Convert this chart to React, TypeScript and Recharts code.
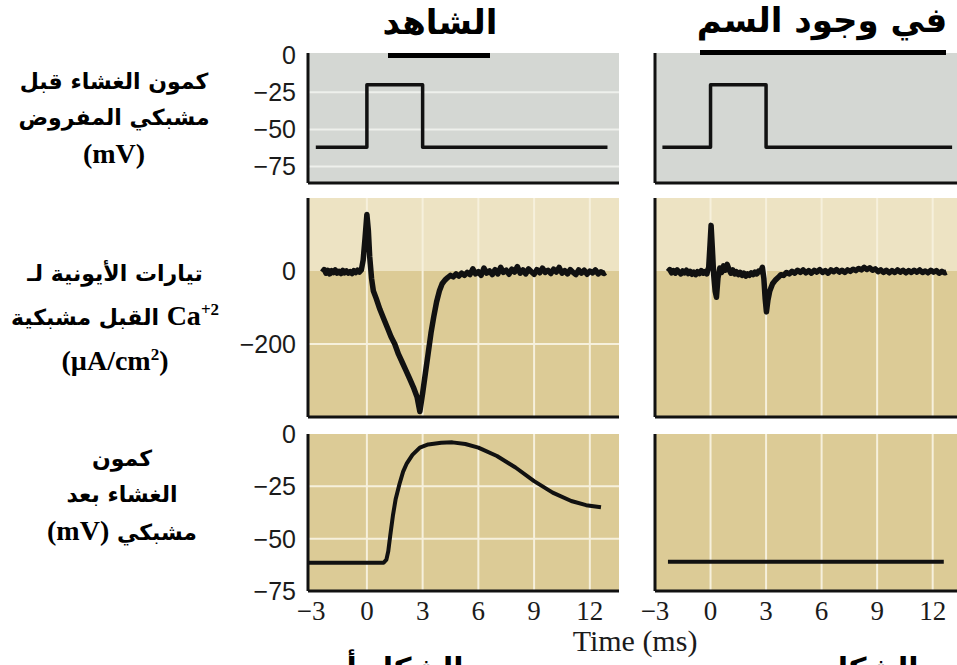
import {
  CartesianGrid,
  Line,
  LineChart,
  ReferenceArea,
  ReferenceLine,
  XAxis,
  YAxis,
} from 'recharts';

// time axis (ms)
const TIME_TICKS = [-3, 0, 3, 6, 9, 12];
const TIME_GRID = [0, 3, 6, 9, 12];
const LEFT_TIME_DOMAIN = [-3.17, 13.57];
const RIGHT_TIME_DOMAIN = [-3, 13.8];

// presynaptic voltage clamp (mV)
const PRE_TICKS = [0, -25, -50, -75];
const PRE_GRID = [-25, -50, -75];
const PRE_DOMAIN = [-86, 1.3];

// presynaptic Ca current (µA/cm2)
const CA_TICKS = [0, -200];
const CA_GRID = [-200];
const CA_DOMAIN = [-400, 200];
const CA_OUTWARD = [0, 200];

// postsynaptic potential (mV)
const POST_TICKS = [0, -25, -50, -75];
const POST_GRID = [-25, -50];
const POST_DOMAIN = [-75, 0];

// [time ms, value]
const controlPre: [number, number][] = [
  [-2.75, -62], [0, -62], [0, -20], [3, -20], [3, -62], [12.95, -62],
];
const toxinPre: [number, number][] = [
  [-2.6, -62], [0, -62], [0, -20], [3, -20], [3, -62], [13.05, -62],
];

const controlCa: [number, number][] = [
  [-2.4, -3], [-2.3, 4], [-2.2, -6], [-2.1, 2], [-2.0, -8], [-1.9, 1], [-1.8, -4], [-1.7, 3],
  [-1.6, -6], [-1.5, -1], [-1.4, -7], [-1.3, 2], [-1.2, -5], [-1.1, 0], [-1.0, -6], [-0.9, -2],
  [-0.8, -7], [-0.7, 1], [-0.6, -4], [-0.5, 2], [-0.4, -3], [-0.3, 3],
  [-0.2, 30], [-0.1, 90], [0.0, 155], [0.08, 110], [0.15, 40], [0.25, -20], [0.35, -55],
  [0.5, -75], [0.7, -105], [0.9, -130], [1.1, -155], [1.3, -180], [1.5, -200], [1.7, -228],
  [1.9, -250], [2.1, -272], [2.3, -295], [2.5, -318], [2.7, -345], [2.85, -385], [3.0, -335],
  [3.15, -280], [3.3, -225], [3.45, -170], [3.6, -125], [3.75, -85], [3.9, -55], [4.05, -35],
  [4.2, -25], [4.35, -18], [4.5, -12], [4.65, -16], [4.8, -8], [4.95, -14], [5.1, -6],
  [5.25, -12], [5.4, -4], [5.55, -10], [5.7, 6], [5.85, -8], [6.0, -2], [6.15, -12], [6.3, 8],
  [6.45, -6], [6.6, 0], [6.75, -10], [6.9, 4], [7.05, -8], [7.2, 10], [7.35, -4], [7.5, 2],
  [7.65, -9], [7.8, 5], [7.95, -3], [8.1, 12], [8.25, -6], [8.4, 3], [8.55, -8], [8.7, 6],
  [8.85, -2], [9.0, -9], [9.15, 4], [9.3, -5], [9.45, 8], [9.6, -4], [9.75, 2], [9.9, -7],
  [10.05, 5], [10.2, -3], [10.35, 10], [10.5, -6], [10.65, 1], [10.8, -8], [10.95, 4],
  [11.1, -4], [11.25, -10], [11.4, 3], [11.55, -6], [11.7, 2], [11.85, -9], [12.0, 0],
  [12.15, -5], [12.3, 3], [12.45, -8], [12.6, -2], [12.75, -7], [12.85, -4],
];

const toxinCa: [number, number][] = [
  [-2.3, -2], [-2.2, 4], [-2.1, -5], [-2.0, 1], [-1.9, -6], [-1.8, 3], [-1.7, -3], [-1.6, -8],
  [-1.5, 0], [-1.4, -5], [-1.3, 2], [-1.2, -7], [-1.1, -1], [-1.0, -9], [-0.9, -3], [-0.8, -10],
  [-0.7, -2], [-0.6, -7], [-0.5, 1], [-0.4, -6], [-0.3, -2], [-0.2, -8], [-0.1, 10],
  [-0.03, 70], [0.03, 125], [0.1, 60], [0.17, -10], [0.25, -55], [0.32, -72], [0.4, -20],
  [0.5, 8], [0.6, -4], [0.7, 14], [0.8, 2], [0.9, 18], [1.0, 4], [1.1, -6], [1.2, 3],
  [1.3, -8], [1.4, -2], [1.5, -10], [1.6, -4], [1.7, -12], [1.8, -6], [1.9, -14], [2.0, -8],
  [2.1, -12], [2.2, -5], [2.3, -10], [2.4, -3], [2.5, -8], [2.6, 0], [2.7, -2], [2.8, 10],
  [2.88, -20], [2.95, -75], [3.02, -112], [3.1, -80], [3.2, -55], [3.35, -35], [3.5, -25],
  [3.65, -18], [3.8, -10], [3.95, -12], [4.1, -4], [4.25, -8], [4.4, -1], [4.55, -6],
  [4.7, 2], [4.85, -4], [5.0, 3], [5.15, -5], [5.3, 1], [5.45, -6], [5.6, 2], [5.75, -3],
  [5.9, 4], [6.05, -4], [6.2, 1], [6.35, -6], [6.5, 3], [6.65, -2], [6.8, 4], [6.95, -3],
  [7.1, 2], [7.25, -4], [7.4, 3], [7.55, -1], [7.7, 5], [7.85, 1], [8.0, 7], [8.15, 3],
  [8.3, 10], [8.45, 4], [8.6, 9], [8.75, 2], [8.9, 6], [9.05, -2], [9.2, 3], [9.35, -4],
  [9.5, 2], [9.65, -5], [9.8, 1], [9.95, -4], [10.1, 3], [10.25, -3], [10.4, 2], [10.55, -5],
  [10.7, 1], [10.85, -4], [11.0, 2], [11.15, -3], [11.3, 3], [11.45, -4], [11.6, 0],
  [11.75, -5], [11.9, 2], [12.05, -3], [12.2, 1], [12.35, -6], [12.5, -1], [12.65, -5],
  [12.75, -3],
];

const controlPost: [number, number][] = [
  [-3.17, -61.5], [0.9, -61.5], [1.05, -60], [1.15, -56], [1.25, -49], [1.4, -39],
  [1.55, -31], [1.75, -24], [1.95, -18], [2.15, -14], [2.45, -10], [2.85, -6.5], [3.3, -5],
  [4.0, -4.2], [4.6, -4], [5.3, -4.8], [6.0, -6.5], [7.0, -10.5], [8.0, -16], [9.0, -22.5],
  [10.0, -28], [11.0, -32], [11.8, -34], [12.6, -35],
];
const toxinPost: [number, number][] = [
  [-2.3, -61], [12.6, -61],
];

const PLOT_W = 311;
const AXIS_W = 68;
const RIGHT_PAD = 30;
const PAD_TOP = 16;
const INK = '#111111';
const GREY_BG = '#d4d7d3';
const GREY_GRID = '#eef0ec';
const TAN_BG = '#dccb96';
const TAN_LIGHT = '#ede3c3';
const TAN_GRID = '#f6f0dc';

const minus = (v: number) => String(v).replace('-', '\u2212');
const toRows = (pairs: [number, number][]) => pairs.map(([t, v]) => ({ t, v }));

interface PanelProps {
  top: number;
  side: 'left' | 'right';
  plotHeight: number;
  yDomain: number[];
  yTicks: number[];
  yGrid: number[];
  bg: string;
  grid: string;
  band?: number[];
  data: [number, number][];
  lineWidth: number;
  showTime?: boolean;
}

function TracePanel({
  top, side, plotHeight, yDomain, yTicks, yGrid, bg, grid, band, data, lineWidth, showTime,
}: PanelProps) {
  const isLeft = side === 'left';
  const yWidth = isLeft ? AXIS_W : 2;
  const padLeft = isLeft ? 0 : RIGHT_PAD;
  const left = isLeft ? 240 : 653 - RIGHT_PAD;
  const xHeight = showTime ? 42 : 3;
  const timeDomain = isLeft ? LEFT_TIME_DOMAIN : RIGHT_TIME_DOMAIN;
  return (
    <div style={{ position: 'absolute', left, top: top - PAD_TOP }}>
      <LineChart
        width={padLeft + yWidth + PLOT_W}
        height={PAD_TOP + plotHeight + xHeight}
        data={toRows(data)}
        margin={{ top: PAD_TOP, right: 0, bottom: 0, left: padLeft }}
      >
        <CartesianGrid
          fill={bg}
          fillOpacity={1}
          stroke={grid}
          strokeWidth={2}
          verticalValues={TIME_GRID}
          horizontalValues={yGrid}
        />
        {band && (
          <ReferenceArea y1={band[0]} y2={band[1]} fill={TAN_LIGHT} fillOpacity={1} stroke="none" />
        )}
        {band &&
          TIME_GRID.map((t) => (
            <ReferenceLine key={t} x={t} stroke={grid} strokeWidth={2} />
          ))}
        <Line
          type="linear"
          dataKey="v"
          stroke={INK}
          strokeWidth={lineWidth}
          strokeLinejoin="round"
          dot={false}
          activeDot={false}
          isAnimationActive={false}
        />
        <XAxis
          type="number"
          dataKey="t"
          domain={timeDomain}
          ticks={TIME_TICKS}
          interval={0}
          allowDataOverflow
          height={xHeight}
          axisLine={{ stroke: INK, strokeWidth: 3 }}
          tickLine={false}
          tickSize={0}
          tickMargin={10}
          tickFormatter={minus}
          tick={
            showTime
              ? { fill: '#1b1b1b', fontSize: 27, fontFamily: '"Liberation Serif", "DejaVu Serif", serif' }
              : false
          }
        />
        <YAxis
          type="number"
          domain={yDomain}
          ticks={yTicks}
          interval={0}
          allowDataOverflow
          width={yWidth}
          axisLine={{ stroke: INK, strokeWidth: 3 }}
          tickLine={false}
          tickSize={0}
          tickMargin={12}
          tickFormatter={minus}
          tick={
            isLeft
              ? { fill: '#1b1b1b', fontSize: 25, fontFamily: '"Liberation Sans", Arial, sans-serif' }
              : false
          }
        />
      </LineChart>
    </div>
  );
}

const arabic: React.CSSProperties = {
  fontFamily: '"DejaVu Sans", Arial, sans-serif',
  fontWeight: 'bold',
  color: '#000',
  direction: 'rtl',
};
const latin: React.CSSProperties = {
  fontFamily: '"Liberation Serif", "Times New Roman", serif',
  fontWeight: 'bold',
  unicodeBidi: 'isolate',
  direction: 'ltr',
};

function SideLabel({ top, center, lines }: { top: number; center: number; lines: React.ReactNode[] }) {
  return (
    <div
      style={{
        position: 'absolute',
        top,
        left: center - 120,
        width: 240,
        textAlign: 'center',
        fontSize: 22,
        lineHeight: '36px',
        ...arabic,
      }}
    >
      {lines.map((l, i) => (
        <div key={i}>{l}</div>
      ))}
    </div>
  );
}

export default function App() {
  // top edge of each row's plot area
  const rowTop = [53, 198, 434];
  return (
    <div
      style={{
        position: 'fixed',
        left: 0,
        top: 0,
        width: 957,
        height: 665,
        overflow: 'hidden',
        background: '#ffffff',
      }}
    >
      <SideLabel
        top={64}
        center={114}
        lines={['كمون الغشاء قبل', 'مشبكي المفروض', <span style={{ ...latin, fontSize: 28 }}>(mV)</span>]}
      />
      <SideLabel
        top={256}
        center={115}
        lines={[
          'تيارات الأيونية لـ',
          <>
            <span style={{ ...latin, fontSize: 28 }}>
              Ca<sup style={{ fontSize: 17 }}>+2</sup>
            </span>{' '}
            القبل مشبكية
          </>,
          <span style={{ ...latin, fontSize: 28 }}>
            (µA/cm<sup style={{ fontSize: 17 }}>2</sup>)
          </span>,
        ]}
      />
      <SideLabel
        top={441}
        center={122}
        lines={[
          'كمون',
          'الغشاء بعد',
          <>
            مشبكي <span style={{ ...latin, fontSize: 28 }}>(mV)</span>
          </>,
        ]}
      />

      <TracePanel top={rowTop[0]} side="left" plotHeight={130} yDomain={PRE_DOMAIN} yTicks={PRE_TICKS}
        yGrid={PRE_GRID} bg={GREY_BG} grid={GREY_GRID} data={controlPre} lineWidth={3.5} />
      <TracePanel top={rowTop[0]} side="right" plotHeight={130} yDomain={PRE_DOMAIN} yTicks={PRE_TICKS}
        yGrid={PRE_GRID} bg={GREY_BG} grid={GREY_GRID} data={toxinPre} lineWidth={3.5} />

      <TracePanel top={rowTop[1]} side="left" plotHeight={219} yDomain={CA_DOMAIN} yTicks={CA_TICKS}
        yGrid={CA_GRID} bg={TAN_BG} grid={TAN_GRID} band={CA_OUTWARD} data={controlCa} lineWidth={5.5} />
      <TracePanel top={rowTop[1]} side="right" plotHeight={219} yDomain={CA_DOMAIN} yTicks={CA_TICKS}
        yGrid={CA_GRID} bg={TAN_BG} grid={TAN_GRID} band={CA_OUTWARD} data={toxinCa} lineWidth={5.5} />

      <TracePanel top={rowTop[2]} side="left" plotHeight={157} yDomain={POST_DOMAIN} yTicks={POST_TICKS}
        yGrid={POST_GRID} bg={TAN_BG} grid={TAN_GRID} data={controlPost} lineWidth={4} showTime />
      <TracePanel top={rowTop[2]} side="right" plotHeight={157} yDomain={POST_DOMAIN} yTicks={POST_TICKS}
        yGrid={POST_GRID} bg={TAN_BG} grid={TAN_GRID} data={toxinPost} lineWidth={4} showTime />

      {/* column titles, drawn over the panel tops */}
      <div style={{ position: 'absolute', left: 340, top: 2, width: 200, textAlign: 'center', fontSize: 34, ...arabic }}>
        الشاهد
      </div>
      <div style={{ position: 'absolute', left: 388, top: 53, width: 102, height: 5, background: '#000' }} />
      <div style={{ position: 'absolute', left: 672, top: 0, width: 300, textAlign: 'center', fontSize: 34, ...arabic }}>
        في وجود السم
      </div>
      <div style={{ position: 'absolute', left: 700, top: 50, width: 246, height: 5, background: '#000' }} />

      <div
        style={{
          position: 'absolute',
          left: 535,
          top: 624,
          width: 200,
          textAlign: 'center',
          fontSize: 30,
          lineHeight: '34px',
          fontFamily: '"Liberation Serif", "DejaVu Serif", serif',
          color: '#1b1b1b',
        }}
      >
        Time (ms)
      </div>

      {/* figure captions, cut by the bottom edge as in the source */}
      <div style={{ position: 'absolute', left: 335, top: 649, width: 140, textAlign: 'center', fontSize: 30, lineHeight: '40px', ...arabic }}>
        الشكل أ
      </div>
      <div style={{ position: 'absolute', left: 780, top: 649, width: 140, textAlign: 'center', fontSize: 30, lineHeight: '40px', ...arabic }}>
        الشكل ب
      </div>
    </div>
  );
}
